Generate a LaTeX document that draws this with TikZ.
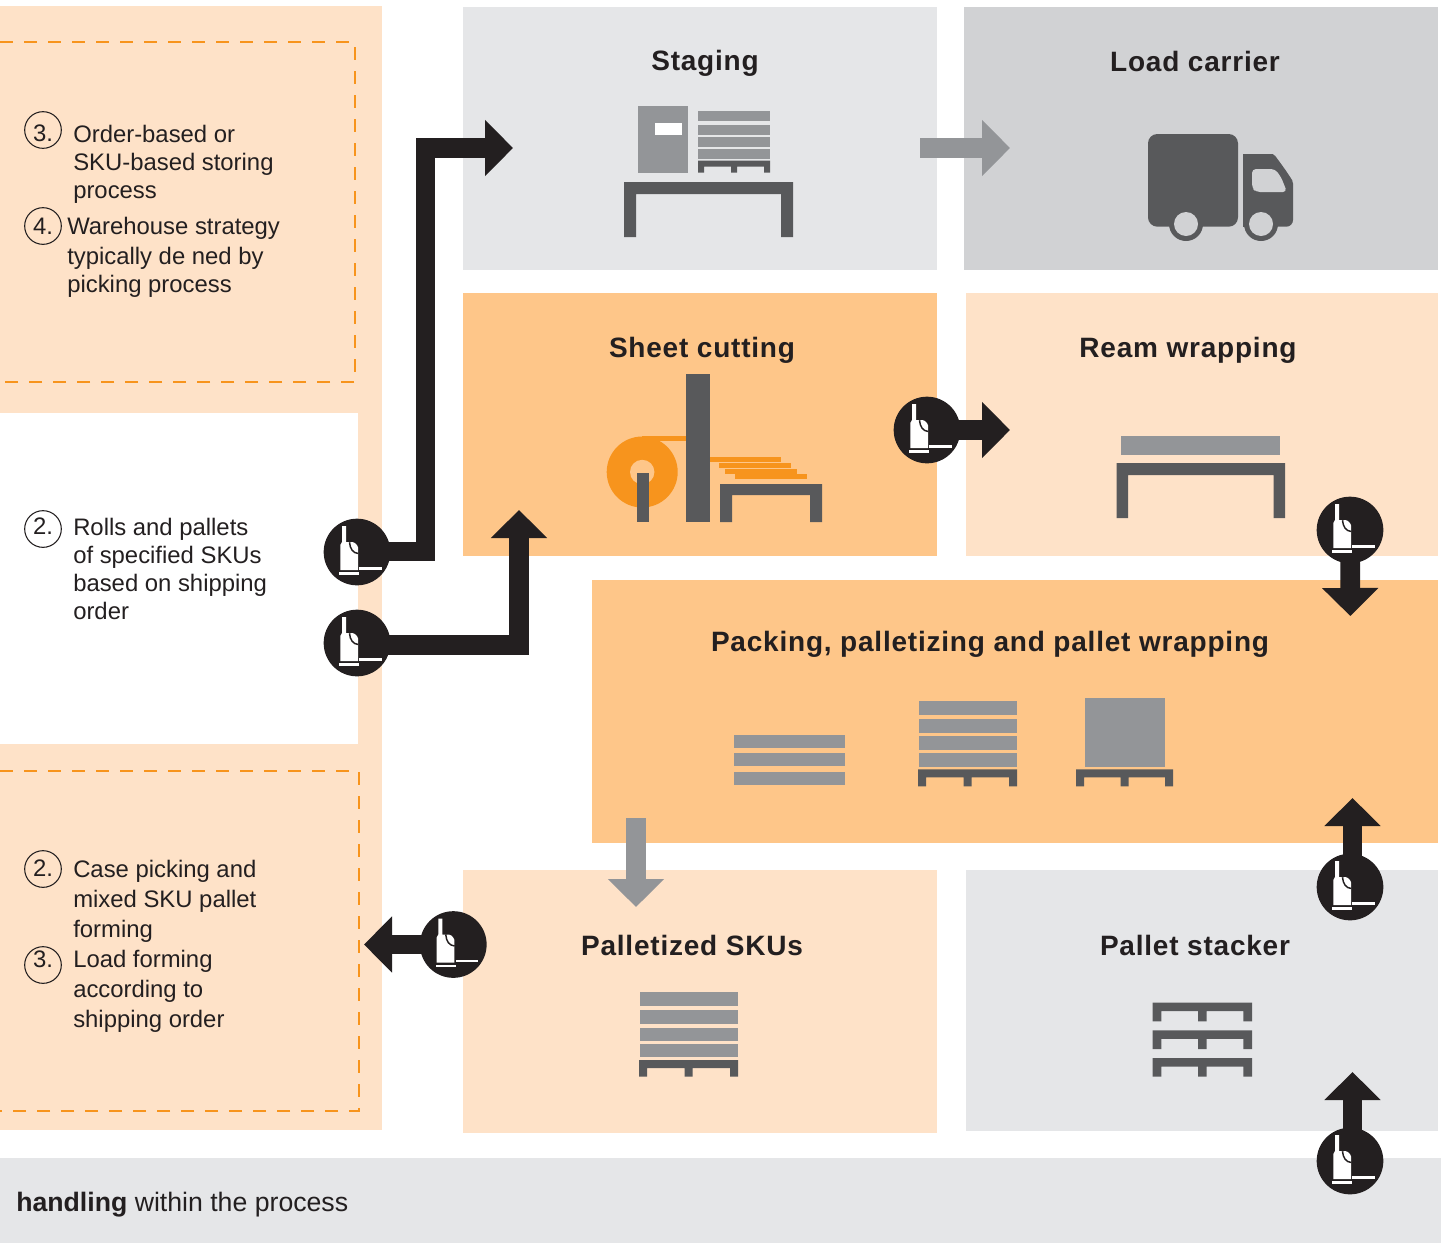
\documentclass[tikz,border=0pt]{standalone}
\usepackage{fontspec}
\usetikzlibrary{arrows.meta}
\setmainfont{Liberation Sans}
\newfontfamily\ttlfont[LetterSpace=2.8]{Liberation Sans}
\definecolor{peach}{HTML}{FEE2C8}
\definecolor{midor}{HTML}{FEC689}
\definecolor{lgrey}{HTML}{E5E6E8}
\definecolor{mgrey}{HTML}{D1D2D4}
\definecolor{icon}{HTML}{58595B}
\definecolor{boxg}{HTML}{939598}
\definecolor{blk}{HTML}{231F20}
\definecolor{orng}{HTML}{F7941D}
\tikzset{
 x=0.75pt,y=-0.75pt,
 zone/.style={fill=#1,draw=none},
 ttl/.style={font=\ttlfont\bfseries\fontsize{21}{25}\selectfont,text=blk,inner sep=0pt},
 body/.style={font=\fontsize{17.9}{21}\selectfont,text=blk,inner sep=0pt,anchor=north west,align=left},
 num/.style={circle,draw=blk,line width=0.8pt,minimum size=27.5pt,inner sep=0pt},
 numt/.style={font=\fontsize{17.9}{21}\selectfont,text=blk,inner sep=0pt},
 dashbox/.style={draw=orng,line width=2.1pt,dash pattern=on 10pt off 8pt},
 darrow/.style={draw=blk,line width=14.8pt,-{Triangle[length=21pt,width=41pt]}},
 garrow/.style={draw=boxg,line width=14.8pt,-{Triangle[length=21pt,width=41pt]}},
 forkc/.style={circle,fill=blk,minimum size=50pt,inner sep=0pt},
 pics/lift/.style={code={
   \fill[white] (-15,-26) -- (-11,-26) -- (-11,-10) -- (-7.5,-9.7) .. controls (-3,-11) and (0,-8) .. (1,-4.7) -- (1,18) -- (-16.7,18) -- (-16.7,-7) -- (-15,-10) -- cycle;
   \draw[blk,line width=1.1pt] (-7.5,-9.7) .. controls (-7,-3) and (-4,1) .. (1.3,1.5);
   \fill[white] (-17.7,20) rectangle (2.3,22.7);
   \fill[white] (2.3,15) rectangle (25,17.7);
 }},
}
% x, y(top), width, bar height, total height, leg width
\newcommand{\pallet}[6]{%
 \fill[icon] (#1,#2) -- ++(#3,0) -- ++(0,#5) -- ++(-#6,0) -- ++(0,-#5+#4) -- ({#1+0.5*#3+0.5*#6},{#2+#4}) -- ++(0,#5-#4) -- ++(-#6,0) -- ++(0,-#5+#4) -- ({#1+#6},{#2+#4}) -- ++(0,#5-#4) -- ++(-#6,0) -- cycle;}
\begin{document}
\begin{tikzpicture}
\useasboundingbox (0,0) rectangle (1441,1243);
% zones
\fill[zone=peach] (0,6) rectangle (382,413);
\fill[zone=peach] (358,413) rectangle (382,744);
\fill[zone=peach] (0,744) rectangle (382,1130);
\fill[zone=lgrey] (463,7) rectangle (937,270);
\fill[zone=mgrey] (964,7) rectangle (1438,270);
\fill[zone=midor] (463,293) rectangle (937,556);
\fill[zone=peach] (966,293) rectangle (1438,556);
\fill[zone=midor] (592,580) rectangle (1438,843);
\fill[zone=peach] (463,870) rectangle (937,1133);
\fill[zone=lgrey] (966,870) rectangle (1438,1131);
\fill[zone=lgrey] (0,1158) rectangle (1441,1243);
\draw[dashbox] (0,42) -- (355,42) -- (355,382) -- (0,382);
\draw[dashbox] (0,771) -- (359,771) -- (359,1111) -- (0,1111);
% titles
\node[ttl] (tstaging) at (705,63) {Staging};
\node[ttl] (tload) at (1195,61) {Load carrier};
\node[ttl] (tsheet) at (702,350) {Sheet cutting};
\node[ttl] (tream) at (1188,350) {Ream wrapping};
\node[ttl] (tpack) at (990,644) {Packing, palletizing and pallet wrapping};
\node[ttl] (tpal) at (692,945) {Palletized SKUs};
\node[ttl] (tstack) at (1195,945) {Pallet stacker};
% left texts
\node[num,label={[numt,yshift=-2.25pt]center:3.}] (n3a) at (43,130) {};
\node[body] (b3a) at (73,125) {Order-based or\\SKU-based storing\\process};
\node[num,label={[numt]center:4.}] (n4a) at (43,226) {};
\node[body] (b4a) at (67,217) {Warehouse strategy\\[1.5pt]typically de ned by\\picking process};
\node[num,label={[numt,yshift=2.25pt]center:2.}] (n2a) at (43,529) {};
\node[body] (b2a) at (73,518) {Rolls and pallets\\of specified SKUs\\based on shipping\\order};
\node[num,label={[numt,yshift=0.75pt]center:2.}] (n2b) at (43,869) {};
\node[body] (b2b) at (73,860) {Case picking and\\[1.5pt]mixed SKU pallet\\[1.5pt]forming\\[1.5pt]Load forming\\[1.5pt]according to\\[1.5pt]shipping order};
\node[num,label={[numt,yshift=4.5pt]center:3.}] (n3b) at (43,965) {};
\node[inner sep=0pt,anchor=base west,font=\fontsize{20}{24}\selectfont,text=blk] (hand) at (16,1211) {\textbf{handling} within the process};
% staging icon
\fill[boxg] (638,106) rectangle (688,173);
\fill[white] (655,123) rectangle (682,135);
\fill[boxg] (698,111) rectangle (770,121);
\fill[boxg] (698,125) rectangle (770,135);
\fill[boxg] (698,137) rectangle (770,147);
\fill[boxg] (698,149) rectangle (770,159);
\pallet{698}{160.7}{72}{6}{12}{6}
\fill[icon] (624,182) -- (793,182) -- (793,237) -- (781,237) -- (781,194) -- (636,194) -- (636,237) -- (624,237) -- cycle;
% truck
\fill[icon,rounded corners=7pt] (1148,134) rectangle (1238,226.7);
\fill[icon] (1186,224) circle (17);
\fill[mgrey] (1186,224) circle (12);
\fill[icon,rounded corners=5pt] (1243,226.7) -- (1243,154) -- (1266,154) .. controls (1273,154) and (1276,157) .. (1279,161) -- (1289,175) .. controls (1292,180) and (1293,184) .. (1293,190) -- (1293,226.7) -- cycle;
\fill[icon] (1243,154) rectangle (1255,165);
\fill[icon] (1243,215) rectangle (1262,226.7);
\fill[icon] (1261,224) circle (17);
\fill[mgrey] (1261,224) circle (12);
\fill[mgrey,rounded corners=3pt] (1252,169) -- (1275,169) -- (1281,177) -- (1287,192) -- (1256,192) -- (1252,188) -- cycle;
% sheet cutting icon
\fill[orng] (642.2,472) circle (35.5);
\fill[midor] (642.2,472) circle (12.2);
\fill[orng] (642,436) rectangle (687,441);
\fill[icon] (637.3,473.3) rectangle (649,522);
\fill[icon] (686,374) rectangle (710,522);
\fill[orng] (710,457) rectangle (781,462);
\fill[orng] (719,463) rectangle (791,468);
\fill[orng] (725,469) rectangle (797,474);
\fill[orng] (735,474) rectangle (807,479);
\fill[icon] (720,484) -- (822,484) -- (822,522) -- (810,522) -- (810,495) -- (732,495) -- (732,522) -- (720,522) -- cycle;
% ream
\fill[boxg] (1121,436) rectangle (1280,455);
\fill[icon] (1116.5,463) -- (1285,463) -- (1285,518) -- (1273.5,518) -- (1273.5,475) -- (1128,475) -- (1128,518) -- (1116.5,518) -- cycle;
% packing icons
\fill[boxg] (733.5,735) rectangle (845,748);
\fill[boxg] (733.5,753) rectangle (845,766);
\fill[boxg] (733.5,772) rectangle (845,785);
\fill[boxg] (919,701) rectangle (1017,715);
\fill[boxg] (919,719) rectangle (1017,733);
\fill[boxg] (919,736) rectangle (1017,750);
\fill[boxg] (919,753) rectangle (1017,767);
\pallet{918}{769.3}{99}{8}{17}{8}
\fill[boxg] (1085,698) rectangle (1165,767);
\pallet{1076}{769.3}{97}{8}{17}{8}
% palletized
\fill[boxg] (640,992) rectangle (738,1006);
\fill[boxg] (640,1010) rectangle (738,1023.7);
\fill[boxg] (640,1028) rectangle (738,1041);
\fill[boxg] (640,1044) rectangle (738,1057);
\pallet{639}{1060}{99}{8}{16.7}{8}
% stacker
\pallet{1152.7}{1002.7}{99.3}{8.5}{18.7}{8.7}
\pallet{1152.7}{1030.3}{99.3}{8.5}{18.7}{8.7}
\pallet{1152.7}{1058}{99.3}{8.5}{18.7}{8.7}
% grey arrows
\coordinate (gs1) at (920,148); \coordinate (ge1) at (1010,148);
\draw[garrow] (gs1) -- (ge1);
\coordinate (gs2) at (636,818); \coordinate (ge2) at (636,907);
\draw[garrow] (gs2) -- (ge2);
% forklift nodes
\node[forkc] (f1) at (357,552) {};
\node[forkc] (f2) at (357,643) {};
\node[forkc] (f3) at (927,430) {};
\node[forkc] (f4) at (1350,530) {};
\node[forkc] (f5) at (1350,887) {};
\node[forkc] (f6) at (1350,1161) {};
\node[forkc] (f7) at (453.3,944.5) {};
% arrow ends
\coordinate (j1a) at (425.5,551.5);
\coordinate (j1b) at (425.5,148);
\coordinate (e1) at (513,148);
\coordinate (j2) at (519,645);
\coordinate (e2) at (519,510);
\coordinate (e3) at (1010,430);
\coordinate (e4) at (1350.3,616);
\coordinate (e5) at (1352.5,798);
\coordinate (e6) at (1352.5,1072);
\coordinate (e7) at (364,944.5);
\draw[darrow] (f1 |- j1a) -- (j1a) -- (j1b) -- (e1);
\draw[darrow] (f2 |- j2) -- (j2) -- (e2);
\draw[darrow] (f3.center) -- (e3);
\draw[darrow] (f4.center) -- (e4);
\draw[darrow] (e5 |- f5) -- (e5);
\draw[darrow] (e6 |- f6) -- (e6);
\draw[darrow] (f7.center) -- (e7);
\foreach \f in {f1,f2,f3,f4,f5,f6,f7} {\path (\f) pic {lift};}
\end{tikzpicture}
\end{document}
